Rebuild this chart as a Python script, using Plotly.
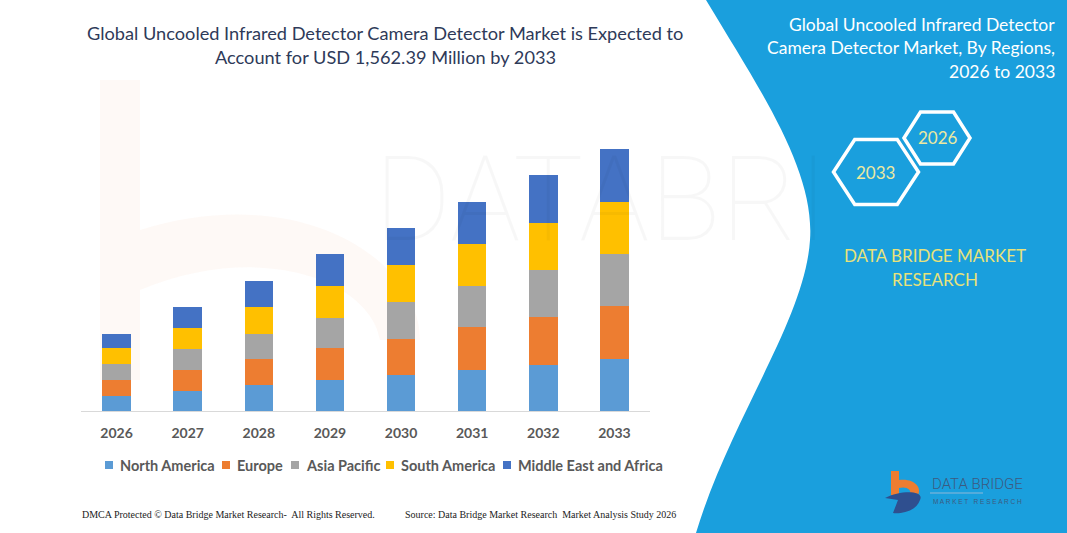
import plotly.graph_objects as go

years = ["2026", "2027", "2028", "2029", "2030", "2031", "2032", "2033"]
north_america = [89.2, 119.0, 152.7, 184.4, 212.2, 241.9, 275.6, 307.3]
europe = [95.2, 124.9, 154.7, 188.4, 220.1, 257.8, 283.6, 317.3]
asia_pacific = [93.2, 126.9, 154.7, 184.4, 218.1, 247.9, 283.6, 313.3]
south_america = [95.2, 126.9, 160.6, 190.4, 222.1, 249.9, 279.6, 309.3]
mea = [89.2, 124.9, 154.7, 190.4, 220.1, 249.9, 285.6, 315.3]

region_names = ["North America", "Europe", "Asia Pacific", "South America", "Middle East and Africa"]
region_values = [north_america, europe, asia_pacific, south_america, mea]
region_colors = ["#5b9bd5", "#ed7d31", "#a5a5a5", "#ffc000", "#4472c4"]

W, H = 1067, 533
L, R, T, B = 81, 650, 143, 411


def px(x):
    return (x - L) / (R - L)


def py(y):
    return (B - y) / (B - T)


def pt(x, y):
    return f"{px(x):.5f},{py(y):.5f}"


fig = go.Figure()
for name, vals, col in zip(region_names, region_values, region_colors):
    fig.add_trace(go.Bar(x=years, y=vals, name=name, marker=dict(color=col, line=dict(width=0))))

shapes = []
# right blue panel
panel = (f"M{pt(706,0)} C{pt(760,90)} {pt(815,170)} {pt(810,240)} "
         f"C{pt(805,320)} {pt(730,420)} {pt(696,533)} L{pt(1067,533)} L{pt(1067,0)} Z")
shapes.append(dict(type="path", path=panel, xref="paper", yref="paper",
                   fillcolor="#1a9fdd", line=dict(width=0), layer="below"))


def hexagon(cx, cy, w, h):
    p = [(cx - w / 2, cy), (cx - w / 4, cy - h / 2), (cx + w / 4, cy - h / 2),
         (cx + w / 2, cy), (cx + w / 4, cy + h / 2), (cx - w / 4, cy + h / 2)]
    return "M" + " L".join(pt(a, b) for a, b in p) + " Z"


shapes.append(dict(type="path", path=hexagon(937, 138, 66, 52), xref="paper", yref="paper",
                   line=dict(color="white", width=3.5), layer="above"))
shapes.append(dict(type="path", path=hexagon(876, 172, 85, 65), xref="paper", yref="paper",
                   line=dict(color="white", width=3.5), layer="above"))

# logo "b"
shapes.append(dict(type="rect", x0=px(891), x1=px(899), y0=py(495), y1=py(471), xref="paper", yref="paper",
                   fillcolor="#ed7d31", line=dict(width=0)))
bowl = f"M{pt(899,480)} C{pt(915,478)} {pt(922,488)} {pt(918,495)} L{pt(910,495)} C{pt(912,489)} {pt(906,486)} {pt(899,488)} Z"
shapes.append(dict(type="path", path=bowl, xref="paper", yref="paper", fillcolor="#ed7d31", line=dict(width=0)))
dshape = f"M{pt(885,498)} C{pt(900,490)} {pt(925,490)} {pt(920,500)} C{pt(916,512)} {pt(900,514)} {pt(893,513)} L{pt(898,500)} Z"
shapes.append(dict(type="path", path=dshape, xref="paper", yref="paper", fillcolor="#2f4f8f", line=dict(width=0)))
shapes.append(dict(type="line", x0=px(930), x1=px(983), y0=py(493), y1=py(493), xref="paper", yref="paper",
                   line=dict(color="#8fb8d8", width=1)))

# faint watermark "b"
wm_b = (f"M{pt(100,80)} L{pt(140,80)} L{pt(140,230)} C{pt(300,180)} {pt(420,260)} {pt(420,340)} "
        f"L{pt(380,340)} C{pt(370,280)} {pt(260,240)} {pt(140,290)} L{pt(140,380)} L{pt(100,380)} Z")
shapes.append(dict(type="path", path=wm_b, xref="paper", yref="paper",
                   fillcolor="rgba(237,125,49,0.045)", line=dict(width=0), layer="below"))

ann = []
ann.append(dict(text="DATABRI", x=px(372), y=py(200), xanchor="left", yanchor="middle",
                font=dict(family="Roboto", size=118, weight=100, color="rgba(0,0,0,0.03)")))

# custom legend
legend_sq_x = [105, 222, 291, 386, 503]
legend_txt_x = [120, 237, 306, 401, 518]
for name, col, sx, tx in zip(region_names, region_colors, legend_sq_x, legend_txt_x):
    shapes.append(dict(type="rect", x0=px(sx), x1=px(sx + 8), y0=py(469), y1=py(461),
                       xref="paper", yref="paper", fillcolor=col, line=dict(width=0)))
    ann.append(dict(text=name, x=px(tx - 2), y=py(465), xanchor="left", yanchor="middle",
                    font=dict(family="Lato", size=14.5, color="#595959", weight="bold")))

title_font = dict(family="Lato", size=18.2, color="#2e3a59")
ann.append(dict(text="Global Uncooled Infrared Detector Camera Detector Market is Expected to",
                x=px(385), y=py(33), xanchor="center", yanchor="middle", font=title_font))
ann.append(dict(text="Account for USD 1,562.39 Million by 2033",
                x=px(385), y=py(57), xanchor="center", yanchor="middle", font=title_font))

rt_font = dict(family="Lato", size=17.5, color="white")
for txt, yy in [("Global Uncooled Infrared Detector", 25),
                ("Camera Detector Market, By Regions,", 48),
                ("2026 to 2033", 72)]:
    ann.append(dict(text=txt, x=px(1057), y=py(yy), xanchor="right", yanchor="middle", font=rt_font))

hex_font = dict(family="Lato", size=17, color="#ece9a0")
ann.append(dict(text="2026", x=px(938), y=py(138), xanchor="center", yanchor="middle", font=hex_font))
ann.append(dict(text="2033", x=px(875), y=py(172), xanchor="center", yanchor="middle", font=hex_font))

db_font = dict(family="Lato", size=17, color="#e8e27a")
ann.append(dict(text="DATA BRIDGE MARKET", x=px(935), y=py(255), xanchor="center", yanchor="middle", font=db_font))
ann.append(dict(text="RESEARCH", x=px(935), y=py(279), xanchor="center", yanchor="middle", font=db_font))

ann.append(dict(text="DATA BRIDGE", x=px(930), y=py(484), xanchor="left", yanchor="middle",
                font=dict(family="Roboto", size=15, weight=300, color="#3d5a80")))
ann.append(dict(text="M A R K E T   R E S E A R C H", x=px(931), y=py(501), xanchor="left", yanchor="middle",
                font=dict(family="Liberation Sans", size=6.5, color="#3d5a80")))

foot_font = dict(family="Liberation Serif", size=10, color="#222222")
ann.append(dict(text="DMCA Protected © Data Bridge Market Research-  All Rights Reserved.",
                x=px(80), y=py(514), xanchor="left", yanchor="middle", font=foot_font))
ann.append(dict(text="Source: Data Bridge Market Research  Market Analysis Study 2026",
                x=px(403), y=py(514), xanchor="left", yanchor="middle", font=foot_font))

for a in ann:
    a.update(xref="paper", yref="paper", showarrow=False)

fig.update_layout(
    barmode="stack",
    bargap=0.6,
    width=W, height=H,
    margin=dict(l=L, r=W - R, t=T, b=H - B, pad=0),
    paper_bgcolor="white",
    plot_bgcolor="rgba(0,0,0,0)",
    shapes=shapes,
    annotations=ann,
    showlegend=False,
    xaxis=dict(showline=True, linecolor="#d9d9d9", linewidth=1, ticks="", showgrid=False,
               ticklabelstandoff=9,
               tickfont=dict(family="Lato", size=14, color="#595959", weight="bold"),
               fixedrange=True),
    yaxis=dict(range=[0, 1598], visible=False, showgrid=False, fixedrange=True),
)

fig.write_html("out.html", config={"displayModeBar": False},
               post_script="document.body.style.margin='0';document.body.style.overflow='hidden';")
